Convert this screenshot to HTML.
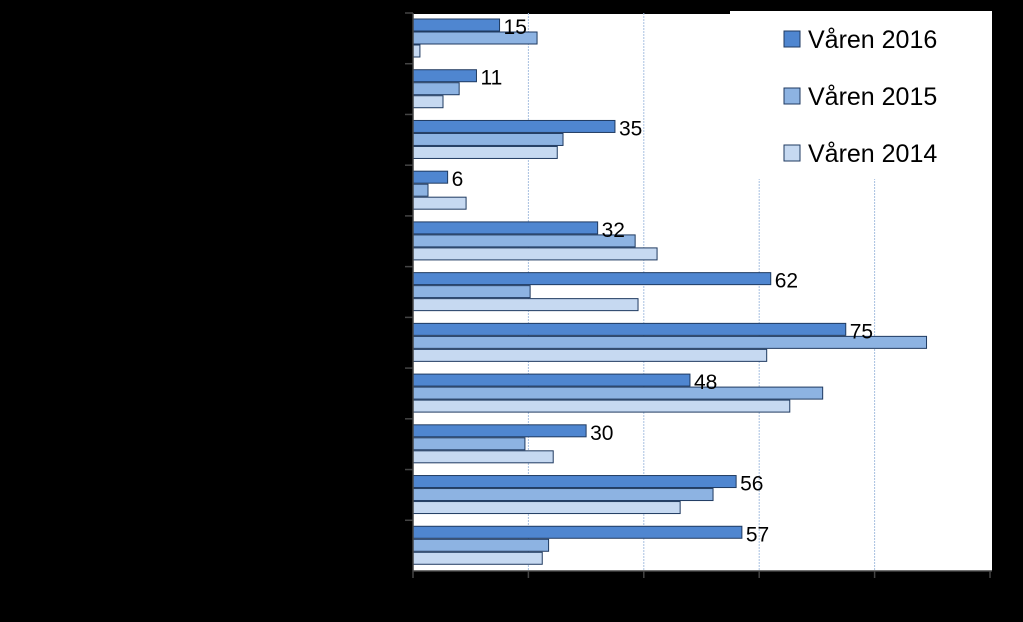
<!DOCTYPE html>
<html><head><meta charset="utf-8"><style>
html,body{margin:0;padding:0;background:#000;}
svg{display:block;font-family:"Liberation Sans",sans-serif;}
</style></head><body>
<svg width="1023" height="622">
<rect x="0" y="0" width="1023" height="622" fill="#000"/>
<rect x="413" y="14" width="579" height="557" fill="#fff"/>
<g id="grid"></g>
<g id="bars"></g>
<g id="labels"></g>
<g id="axes"></g>
<g>
<rect x="730" y="11" width="262" height="168" fill="#fff"/>
<g><rect x="784" y="31" width="16" height="16" fill="#4f86d0" stroke="#1f3a60"/><text x="808" y="48" font-size="25" fill="#000">Våren 2016</text></g>
<g><rect x="784" y="88" width="16" height="16" fill="#8db3e2" stroke="#1f3a60"/><text x="808" y="105" font-size="25" fill="#000">Våren 2015</text></g>
<g><rect x="784" y="145" width="16" height="16" fill="#c6d9f1" stroke="#1f3a60"/><text x="808" y="162" font-size="25" fill="#000">Våren 2014</text></g>
</g>
</svg>
<script>
const categories=["c1","c2","c3","c4","c5","c6","c7","c8","c9","c10","c11"];
const v2016=[15,11,35,6,32,62,75,48,30,56,57];
const v2015=[21.5,8,26,2.6,38.5,20.3,89,71,19.4,52,23.5];
const v2014=[1.2,5.2,25,9.2,42.3,39,61.3,65.3,24.3,46.3,22.4];
const xTicks=[0,20,40,60,80,100];
const NS="http://www.w3.org/2000/svg";
const X0=413,X1=990,Y0=13,Y1=571;
const x=v=>X0+(v/100)*(X1-X0);
const gh=(Y1-Y0)/categories.length;
function mk(t,a,p){const e=document.createElementNS(NS,t);for(const k in a)e.setAttribute(k,a[k]);p.appendChild(e);return e;}
const grid=document.getElementById('grid'),bars=document.getElementById('bars'),labels=document.getElementById('labels'),axes=document.getElementById('axes');
xTicks.forEach(t=>{
  if(t>0&&t<100){const l=mk('line',{x1:x(t),x2:x(t),y1:Y0,y2:Y1,stroke:'#a8c0e0','stroke-width':1,'stroke-dasharray':'2,1'},grid);
  
  }
  const tk=mk('line',{x1:x(t),x2:x(t),y1:Y1,y2:Y1+7,stroke:'#444','stroke-width':1.5},axes);
  
  
});
const series=[[v2016,'#4f86d0'],[v2015,'#8db3e2'],[v2014,'#c6d9f1']];
categories.forEach((c,i)=>{
  const gy=Y0+i*gh;
  series.forEach(([arr,col],s)=>{
    const r=mk('rect',{x:X0,y:gy+6+s*13,width:x(arr[i])-X0,height:12,fill:col,stroke:'#1f3a60','stroke-width':1},bars);
    
    
  });
  const t=mk('text',{x:x(v2016[i])+4,y:gy+21,'font-size':21,fill:'#000'},labels);
  t.textContent=v2016[i];
  
  
  const tk=mk('line',{x1:X0-8,x2:X0,y1:gy,y2:gy,stroke:'#444','stroke-width':1.5},axes);
  
  
});
const ya=mk('line',{x1:X0,x2:X0,y1:Y0,y2:Y1,stroke:'#444','stroke-width':1.5},axes);


const xa=mk('line',{x1:X0,x2:992,y1:Y1,y2:Y1,stroke:'#444','stroke-width':1.5},axes);


</script>
</body></html>
